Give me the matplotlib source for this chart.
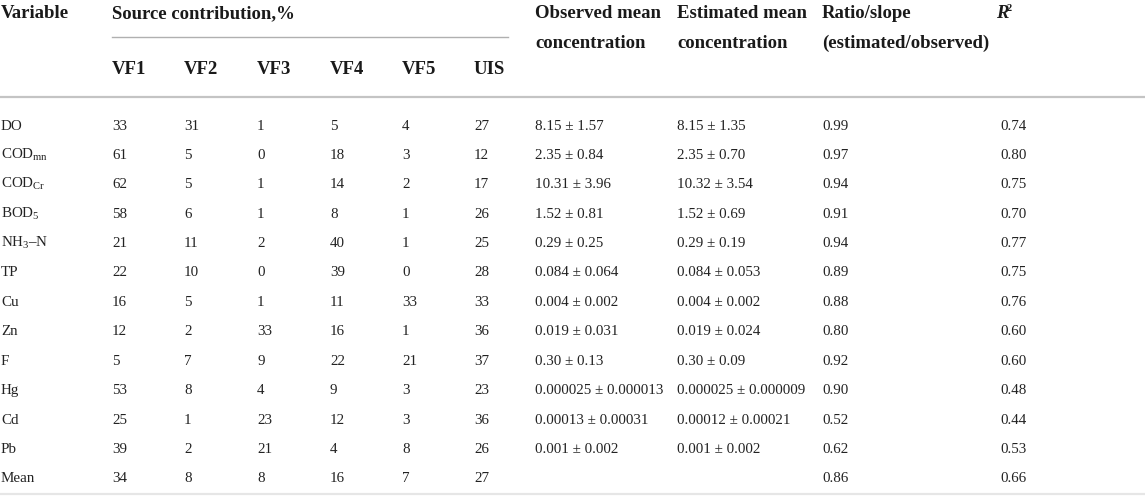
import matplotlib.pyplot as plt
from matplotlib.lines import Line2D

plt.rcParams['font.family'] = 'Liberation Serif'
plt.rcParams['mathtext.fontset'] = 'custom'
plt.rcParams['mathtext.rm'] = 'Liberation Serif'
plt.rcParams['mathtext.it'] = 'Liberation Serif:italic'
plt.rcParams['mathtext.bf'] = 'Liberation Serif:bold'

variables = ['DO', r'COD$_{\mathrm{mn}}$', r'COD$_{\mathrm{Cr}}$', r'BOD$_{5}$', r'NH$_{3}$–N',
             'TP', 'Cu', 'Zn', 'F', 'Hg', 'Cd', 'Pb', 'Mean']
sources = ['VF1', 'VF2', 'VF3', 'VF4', 'VF5', 'UIS']
vf1 = [33, 61, 62, 58, 21, 22, 16, 12, 5, 53, 25, 39, 34]
vf2 = [31, 5, 5, 6, 11, 10, 5, 2, 7, 8, 1, 2, 8]
vf3 = [1, 0, 1, 1, 2, 0, 1, 33, 9, 4, 23, 21, 8]
vf4 = [5, 18, 14, 8, 40, 39, 11, 16, 22, 9, 12, 4, 16]
vf5 = [4, 3, 2, 1, 1, 0, 33, 1, 21, 3, 3, 8, 7]
uis = [27, 12, 17, 26, 25, 28, 33, 36, 37, 23, 36, 26, 27]
observed = ['8.15 ± 1.57', '2.35 ± 0.84', '10.31 ± 3.96', '1.52 ± 0.81', '0.29 ± 0.25',
            '0.084 ± 0.064', '0.004 ± 0.002', '0.019 ± 0.031', '0.30 ± 0.13',
            '0.000025 ± 0.000013', '0.00013 ± 0.00031', '0.001 ± 0.002', '']
estimated = ['8.15 ± 1.35', '2.35 ± 0.70', '10.32 ± 3.54', '1.52 ± 0.69', '0.29 ± 0.19',
             '0.084 ± 0.053', '0.004 ± 0.002', '0.019 ± 0.024', '0.30 ± 0.09',
             '0.000025 ± 0.000009', '0.00012 ± 0.00021', '0.001 ± 0.002', '']
ratio = ['0.99', '0.97', '0.94', '0.91', '0.94', '0.89', '0.88', '0.80', '0.92',
         '0.90', '0.52', '0.62', '0.86']
r2 = ['0.74', '0.80', '0.75', '0.70', '0.77', '0.75', '0.76', '0.60', '0.60',
      '0.48', '0.44', '0.53', '0.66']

W, H = 1145, 503
fig = plt.figure(figsize=(W / 100, H / 100), dpi=100)
ax = fig.add_axes([0, 0, 1, 1])
ax.set_xlim(0, W)
ax.set_ylim(H, 0)
ax.axis('off')

hdr = dict(fontsize=13.5, fontweight='bold', color='#1a1a1a', va='baseline', ha='left')
body = dict(fontsize=10.8, color='#222222', va='baseline', ha='left')

src_x = [112, 184, 257, 330, 402, 474]
obs_x, est_x, rat_x, r2_x = 535, 677, 822, 1000

# header (baselines)
ax.text(1, 18, 'Variable', **hdr)
ax.text(112, 18, 'Source contribution,%', **hdr)
for x, s in zip(src_x, sources):
    ax.text(x, 74, s, **hdr)
ax.text(obs_x, 18, 'Observed mean', **hdr)
ax.text(obs_x, 48, 'concentration', **hdr)
ax.text(est_x, 18, 'Estimated mean', **hdr)
ax.text(est_x, 48, 'concentration', **hdr)
ax.text(rat_x, 18, 'Ratio/slope', **hdr)
ax.text(rat_x, 48, '(estimated/observed)', **hdr)
ax.text(996, 18, 'R', style='italic', **hdr)
ax.text(1007, 11, '2', fontsize=7.5, fontweight='bold', color='#1a1a1a', va='baseline', ha='left')

ax.add_line(Line2D([112, 508], [37, 37], color='#b0b0b0', lw=1.0))
ax.add_line(Line2D([0, W], [96.5, 96.5], color='#c4c4c4', lw=1.6))
ax.add_line(Line2D([0, W], [494, 494], color='#e6e6e6', lw=1.6))

# body rows
cols = [vf1, vf2, vf3, vf4, vf5, uis]
for i, var in enumerate(variables):
    y = round(129.5 + 29.4 * i)
    ax.text(1, y, var, **body)
    for x, col in zip(src_x, cols):
        ax.text(x, y, str(col[i]), **body)
    ax.text(obs_x, y, observed[i], **body)
    ax.text(est_x, y, estimated[i], **body)
    ax.text(rat_x, y, ratio[i], **body)
    ax.text(r2_x, y, r2[i], **body)

fig.savefig('out.png', dpi=100, facecolor='white')
